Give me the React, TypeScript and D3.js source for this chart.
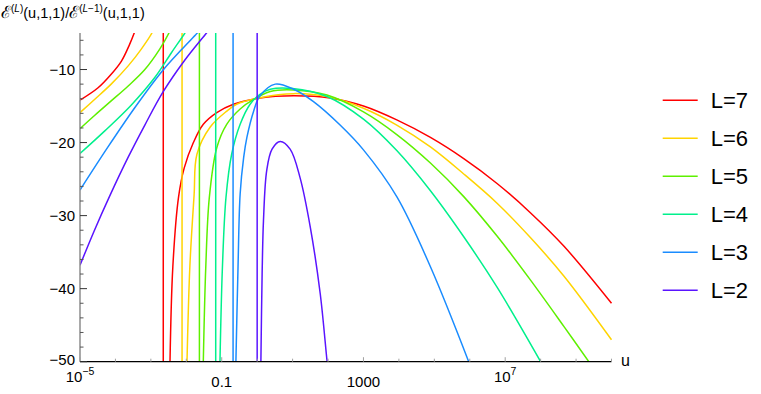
import * as d3 from "d3";
import { useEffect, useRef } from "react";

// values: [log10 u, ratio]
const labels = ["L=7", "L=6", "L=5", "L=4", "L=3", "L=2"];
const colors = ["#ff0000", "#ffd400", "#5ef000", "#00f08c", "#1a8cff", "#5a14ff"];
const poles = [-2.65, -2.12, -1.63, -1.17, -0.68, 0.0];

const leftL7 = [[-5, -14.2], [-4.49, -12.5], [-4.12, -10.65], [-3.83, -8.84], [-3.6, -6.56], [-3.47, -5.0], [-3.4, -4.0]];
const leftL6 = [[-5, -15.9], [-4.59, -14.1], [-4.12, -12.0], [-3.64, -9.5], [-3.27, -7.2], [-2.97, -5.0], [-2.9, -4.2]];
const leftL5 = [[-5, -18.1], [-4.59, -16.3], [-4.12, -14.3], [-3.64, -12.25], [-3.17, -10.0], [-2.75, -7.2], [-2.49, -5.0], [-2.42, -4.2]];
const leftL4 = [[-5, -21.5], [-4.3, -18.4], [-3.55, -14.85], [-2.89, -11.1], [-2.42, -7.7], [-2.04, -5.0], [-1.97, -4.4]];
const leftL3 = [[-5, -26.5], [-4.21, -20.6], [-3.45, -15.2], [-2.66, -10.1], [-2.14, -7.3], [-1.69, -5.0], [-1.6, -4.5]];
const leftL2 = [[-5, -36.8], [-4.6, -32.1], [-4.16, -27.3], [-3.64, -22.0], [-3.17, -17.6], [-2.66, -13.1], [-2.04, -8.7], [-1.43, -5.0], [-1.35, -4.5]];

const rightL7 = [[-2.46, -50], [-2.38, -37], [-2.22, -27.5], [-2.06, -23.5], [-1.8, -20.0], [-1.52, -17.5], [-1.14, -15.9], [-0.67, -14.75], [0.08, -13.9], [1.03, -13.6], [2.06, -13.9], [3.0, -15.0], [3.94, -16.9], [4.89, -19.3], [5.83, -22.2], [6.77, -25.6], [7.71, -29.6], [8.66, -34.2], [10.0, -42.0]];
const rightL6 = [[-1.98, -50], [-1.9, -37], [-1.78, -27.2], [-1.7, -21.6], [-1.33, -17.9], [-0.86, -15.7], [-0.58, -14.75], [0.08, -13.85], [1.03, -13.3], [2.06, -13.8], [3.0, -15.3], [3.94, -17.6], [4.89, -20.6], [5.83, -24.3], [6.77, -28.3], [7.71, -33.0], [8.66, -38.3], [10.0, -47.0]];
const rightL5 = [[-1.52, -50], [-1.45, -37], [-1.35, -27.5], [-1.14, -20.7], [-0.86, -17.5], [-0.48, -15.4], [-0.1, -14.1], [0.37, -13.0], [1.03, -12.8], [1.97, -13.5], [3.0, -15.8], [3.94, -18.9], [4.89, -22.8], [5.83, -27.4], [6.77, -32.8], [7.71, -38.8], [8.66, -45.2], [9.36, -50]];
const rightL4 = [[-1.05, -50], [-0.98, -37], [-0.88, -27.5], [-0.72, -21.6], [-0.48, -17.5], [-0.2, -14.75], [0.08, -13.4], [0.37, -12.7], [1.0, -12.6], [1.97, -13.7], [3.0, -16.8], [3.94, -21.1], [4.89, -26.6], [5.83, -32.9], [6.77, -39.8], [8.0, -50]];
const rightL3 = [[-0.6, -50], [-0.54, -37], [-0.48, -27], [-0.38, -22], [-0.29, -19.3], [-0.1, -15.7], [0.08, -13.6], [0.51, -12.0], [1.03, -12.7], [1.59, -14.4], [2.34, -17.6], [3.0, -21.0], [3.94, -27.4], [4.89, -37.0], [5.97, -50]];
const rightL2 = [[0.105, -50], [0.14, -38], [0.178, -30.7], [0.27, -23.8], [0.42, -20.9], [0.65, -19.85], [0.93, -20.9], [1.21, -24.8], [1.5, -31.6], [1.78, -40.7], [1.97, -49.8], [2.0, -51]];

const lefts = [leftL7, leftL6, leftL5, leftL4, leftL3, leftL2];
const rights = [rightL7, rightL6, rightL5, rightL4, rightL3, rightL2];

const xDecades = d3.range(-5, 11);
const xLabeled = [-5, -1, 3, 7];
const yMajor = [-50, -40, -30, -20, -10];
const yMinor = d3.range(-50, -5, 2);

export default function App() {
  const ref = useRef<SVGSVGElement>(null);

  useEffect(() => {
    const svg = d3.select(ref.current);
    svg.selectAll("*").remove();

    const left = 80, right = 611.5, top = 33, bottom = 361.7;
    const x = d3.scaleLog().domain([1e-5, 1e10]).range([left, right]);
    const y = d3.scaleLinear().domain([-50, -5]).range([bottom, top]);
    const font = "'Liberation Sans', Arial, sans-serif";

    svg.append("defs").append("clipPath").attr("id", "plot")
      .append("rect")
      .attr("x", left).attr("y", top)
      .attr("width", right - left + 2).attr("height", bottom - top);

    const line = d3.line<number[]>()
      .x((d) => x(Math.pow(10, d[0])))
      .y((d) => y(d[1]))
      .curve(d3.curveCatmullRom.alpha(0.5));

    const plot = svg.append("g").attr("clip-path", "url(#plot)");

    labels.forEach((_, i) => {
      plot.append("path").attr("d", line(lefts[i]))
        .style("fill", "none").style("stroke", colors[i]).style("stroke-width", "1.5px");
      plot.append("line")
        .attr("x1", x(Math.pow(10, poles[i]))).attr("x2", x(Math.pow(10, poles[i])))
        .attr("y1", top).attr("y2", bottom)
        .style("stroke", colors[i]).style("stroke-width", "1.5px");
      plot.append("path").attr("d", line(rights[i]))
        .style("fill", "none").style("stroke", colors[i]).style("stroke-width", "1.5px");
    });

    // axes
    svg.append("line")
      .attr("x1", left).attr("x2", left).attr("y1", top).attr("y2", bottom)
      .style("stroke", "#8c8c8c").style("stroke-width", "1.5px");
    svg.append("line")
      .attr("x1", left).attr("x2", right).attr("y1", bottom).attr("y2", bottom)
      .style("stroke", "#000").style("stroke-width", "1.2px");

    xDecades.forEach((e) => {
      const px = x(Math.pow(10, e));
      const major = xLabeled.includes(e);
      svg.append("line")
        .attr("x1", px).attr("x2", px)
        .attr("y1", bottom).attr("y2", bottom - (major ? 4.5 : 3))
        .style("stroke", "#a0a0a0").style("stroke-width", "1px");
    });

    const xl = (e: number) => {
      if (e === -1) return { base: "0.1", sup: "" };
      if (e === 3) return { base: "1000", sup: "" };
      return { base: "10", sup: e < 0 ? "\u2212" + -e : String(e) };
    };
    xLabeled.forEach((e) => {
      const { base, sup } = xl(e);
      const t = svg.append("text")
        .attr("x", x(Math.pow(10, e)))
        .attr("y", sup ? 382 : 387)
        .attr("text-anchor", "middle")
        .style("font-family", font).style("font-size", "15px");
      t.append("tspan").text(base);
      if (sup) t.append("tspan").attr("dy", -7).style("font-size", "10.5px").text(sup);
    });

    yMinor.forEach((v) => {
      if (yMajor.includes(v)) return;
      svg.append("line")
        .attr("x1", left).attr("x2", left + 3.5).attr("y1", y(v)).attr("y2", y(v))
        .style("stroke", "#555").style("stroke-width", "1px");
    });
    yMajor.forEach((v) => {
      svg.append("line")
        .attr("x1", left).attr("x2", left + 7).attr("y1", y(v)).attr("y2", y(v))
        .style("stroke", "#333").style("stroke-width", "1px");
      svg.append("text")
        .attr("x", left - 5).attr("y", y(v) + (v === -50 ? 3 : 5))
        .attr("text-anchor", "end")
        .style("font-family", font).style("font-size", "15px")
        .text("\u2212" + -v);
    });

    svg.append("text")
      .attr("x", 621).attr("y", 366)
      .style("font-family", font).style("font-size", "16px")
      .text("u");

    // title
    const title = svg.append("text")
      .attr("x", 1).attr("y", 18)
      .style("font-family", font).style("font-size", "14.5px");
    const sup = (s: string) => {
      title.append("tspan").attr("dy", -6).style("font-size", "10px").text("(");
      title.append("tspan").style("font-size", "10px").style("font-style", "italic").text("L");
      title.append("tspan").style("font-size", "10px").text(s + ")");
    };
    title.append("tspan").style("font-size", "17px").text("\u2130");
    sup("");
    title.append("tspan").attr("dy", 6).text("(u,1,1)/");
    title.append("tspan").style("font-size", "17px").text("\u2130");
    sup("\u22121");
    title.append("tspan").attr("dy", 6).text("(u,1,1)");

    // legend
    labels.forEach((lab, i) => {
      const cy = 100.3 + 38 * i;
      svg.append("line")
        .attr("x1", 662.7).attr("x2", 697.7).attr("y1", cy).attr("y2", cy)
        .style("stroke", colors[i]).style("stroke-width", "1.5px");
      svg.append("text")
        .attr("x", 710.7).attr("y", cy + 8)
        .style("font-family", font).style("font-size", "22px")
        .text(lab);
    });
  }, []);

  return (
    <svg
      ref={ref}
      width={761}
      height={394}
      style={{ position: "absolute", left: 0, top: 0, background: "#fff" }}
    />
  );
}
